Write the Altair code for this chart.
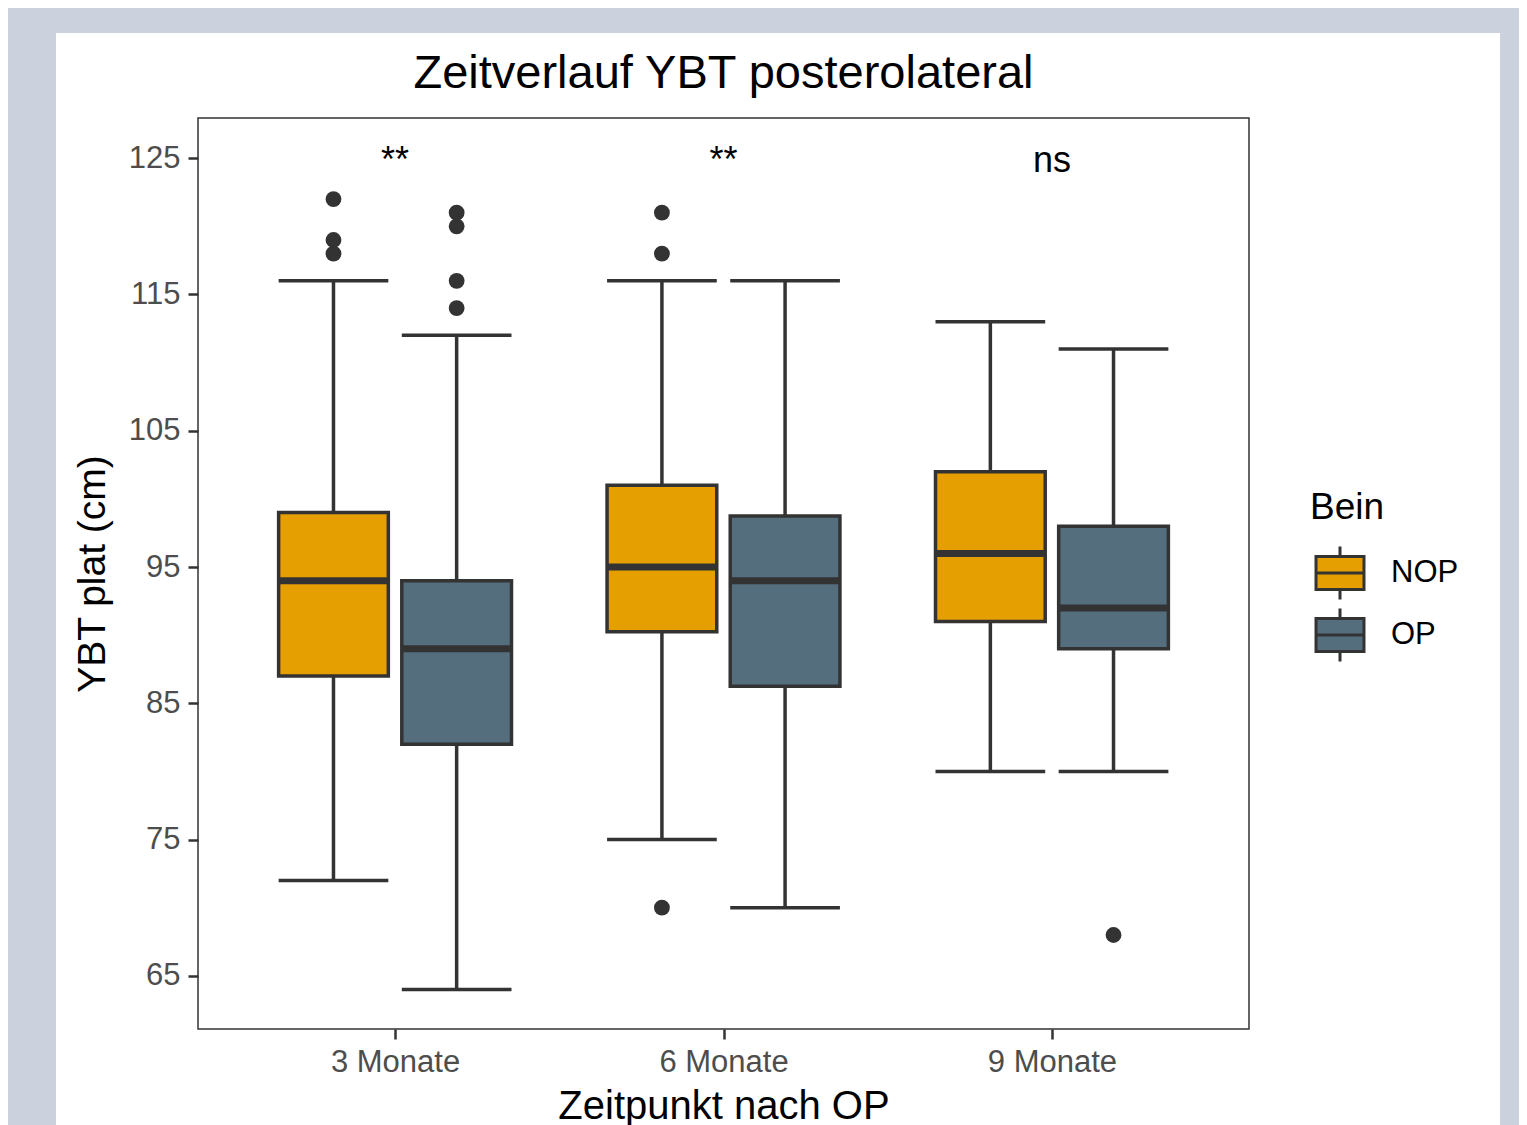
import altair as alt
import pandas as pd

# ---------------- data ----------------
groups = ["3 Monate", "6 Monate", "9 Monate"]
legs = ["NOP", "OP"]
leg_colors = ["#E69F00", "#546E7D"]

# box statistics, order: (3M NOP, 3M OP, 6M NOP, 6M OP, 9M NOP, 9M OP)
box_group = ["3 Monate", "3 Monate", "6 Monate", "6 Monate", "9 Monate", "9 Monate"]
box_leg = ["NOP", "OP", "NOP", "OP", "NOP", "OP"]
whisker_low = [72, 64, 75, 70, 80, 80]
q1 = [87, 82, 90.25, 86.25, 91, 89]
median = [94, 89, 95, 94, 96, 92]
q3 = [99, 94, 101, 98.75, 102, 98]
whisker_high = [116, 112, 116, 116, 113, 111]

out_group = ["3 Monate", "3 Monate", "3 Monate", "3 Monate", "3 Monate", "3 Monate", "3 Monate",
             "6 Monate", "6 Monate", "6 Monate", "9 Monate"]
out_leg = ["NOP", "NOP", "NOP", "OP", "OP", "OP", "OP", "NOP", "NOP", "NOP", "OP"]
out_value = [122, 119, 118, 121, 120, 116, 114, 121, 118, 70, 68]

sig_group = ["3 Monate", "6 Monate", "9 Monate"]
sig_label = ["**", "**", "ns"]
sig_y = [124, 124, 124]

y_ticks = [65, 75, 85, 95, 105, 115, 125]

title_text = ["Zeitverlauf YBT posterolateral"]

# ---------------- derived table ----------------
dodge = 0.1875
half_w = 0.167


def xpos(g, leg):
    return groups.index(g) + 1 + (-dodge if leg == "NOP" else dodge)


boxes = pd.DataFrame({
    "Gruppe": box_group, "Bein": box_leg,
    "lo": whisker_low, "q1": q1, "med": median, "q3": q3, "hi": whisker_high,
})
boxes["xc"] = [xpos(g, l) for g, l in zip(box_group, box_leg)]
boxes["xl"] = boxes["xc"] - half_w
boxes["xr"] = boxes["xc"] + half_w

outs = pd.DataFrame({"Gruppe": out_group, "Bein": out_leg, "v": out_value})
outs["xc"] = [xpos(g, l) for g, l in zip(out_group, out_leg)]

sigs = pd.DataFrame({"Gruppe": sig_group, "label": sig_label, "y": sig_y})
sigs["xc"] = [groups.index(g) + 1 for g in sig_group]

FONT = "Liberation Sans"
DARK = "#333333"

xscale = alt.Scale(domain=[0.4, 3.6], nice=False, zero=False)
yscale = alt.Scale(domain=[61.1, 127.95], nice=False, zero=False)

label_expr = "[" + ",".join("'" + g + "'" for g in groups) + "][datum.value - 1]"

x_axis = alt.Axis(values=[1, 2, 3], labelExpr=label_expr, title="Zeitpunkt nach OP",
                  grid=False, domain=False, tickSize=10, tickWidth=2.5, tickColor=DARK,
                  labelFontSize=31, labelColor="#4D4D4D", labelFont=FONT, labelPadding=8,
                  titleFontSize=40, titleFont=FONT, titleColor="black", titleFontWeight="normal",
                  titlePadding=9, zindex=1)
y_axis = alt.Axis(values=y_ticks, title="YBT plat (cm)",
                  grid=False, domain=False, tickSize=10, tickWidth=2.5, tickColor=DARK,
                  labelFontSize=31, labelColor="#4D4D4D", labelFont=FONT, labelPadding=8,
                  titleFontSize=39, titleFont=FONT, titleColor="black", titleFontWeight="normal",
                  titlePadding=16, zindex=1)

one = pd.DataFrame({"a": [0]})
# white card behind the figure (decoration)
card = alt.Chart(one).mark_rect(fill="white").encode(
    x=alt.value(-142), x2=alt.value(1302), y=alt.value(-85), y2=alt.value(1100)
)
# panel border
border = alt.Chart(one).mark_rect(fill=None, stroke=DARK, strokeWidth=1.5).encode(
    x=alt.value(0), x2=alt.value("width"), y=alt.value(0), y2=alt.value("height")
)
# chart title as text placed above the panel
title = alt.Chart(pd.DataFrame({"t": title_text})).mark_text(
    fontSize=47, font=FONT, color="black", baseline="alphabetic", align="center"
).encode(text="t:N", x=alt.value(525.5), y=alt.value(-30))

base = alt.Chart(boxes)

whiskers = base.mark_rule(color=DARK, strokeWidth=3.5).encode(
    x=alt.X("xc:Q", scale=xscale, axis=x_axis),
    y=alt.Y("lo:Q", scale=yscale, axis=y_axis),
    y2="hi:Q",
)
caps_hi = base.mark_rule(color=DARK, strokeWidth=3.5).encode(
    x=alt.X("xl:Q", scale=xscale), x2="xr:Q", y=alt.Y("hi:Q", scale=yscale)
)
caps_lo = base.mark_rule(color=DARK, strokeWidth=3.5).encode(
    x=alt.X("xl:Q", scale=xscale), x2="xr:Q", y=alt.Y("lo:Q", scale=yscale)
)
sym_path = "M-1.17,-0.805H1.17V0.805H-1.17Z M-1.17,0H1.17 M0,-1.29V-0.805 M0,0.805V1.29"
rects = base.mark_rect(stroke=DARK, strokeWidth=3.5).encode(
    x=alt.X("xl:Q", scale=xscale), x2="xr:Q",
    y=alt.Y("q3:Q", scale=yscale), y2="q1:Q",
    fill=alt.Fill("Bein:N", scale=alt.Scale(domain=legs, range=leg_colors),
                  legend=alt.Legend(title="Bein", orient="none", legendX=1112, legendY=372,
                                    symbolType=sym_path, symbolOffset=8,
                                    symbolSize=1681, symbolStrokeColor=DARK, symbolStrokeWidth=3,
                                    symbolOpacity=1,
                                    labelFontSize=31, labelFont=FONT, labelColor="black",
                                    labelOffset=29, rowPadding=-4, padding=0,
                                    titleFontSize=37, titleFont=FONT, titleColor="black",
                                    titleFontWeight="normal", titlePadding=24)),
)
medians = base.mark_rule(color=DARK, strokeWidth=7).encode(
    x=alt.X("xl:Q", scale=xscale), x2="xr:Q", y=alt.Y("med:Q", scale=yscale)
)
points = alt.Chart(outs).mark_circle(size=250, color=DARK, opacity=1).encode(
    x=alt.X("xc:Q", scale=xscale), y=alt.Y("v:Q", scale=yscale)
)
labels = alt.Chart(sigs).mark_text(fontSize=36, font=FONT, color="black",
                                   baseline="alphabetic", align="center").encode(
    x=alt.X("xc:Q", scale=xscale), y=alt.Y("y:Q", scale=yscale), text="label:N"
)

chart = alt.layer(card, whiskers, caps_hi, caps_lo, rects, medians, points, labels, border,
                  title).properties(
    width=1051, height=911,
    autosize=alt.AutoSizeParams(type="none"),
    padding={"left": 190, "top": 110, "right": 270, "bottom": 96},
    background="#CCD1DE",
).configure_view(stroke=None, fill="white")

chart.save("out.html", embed_options={"renderer": "svg", "actions": False})
